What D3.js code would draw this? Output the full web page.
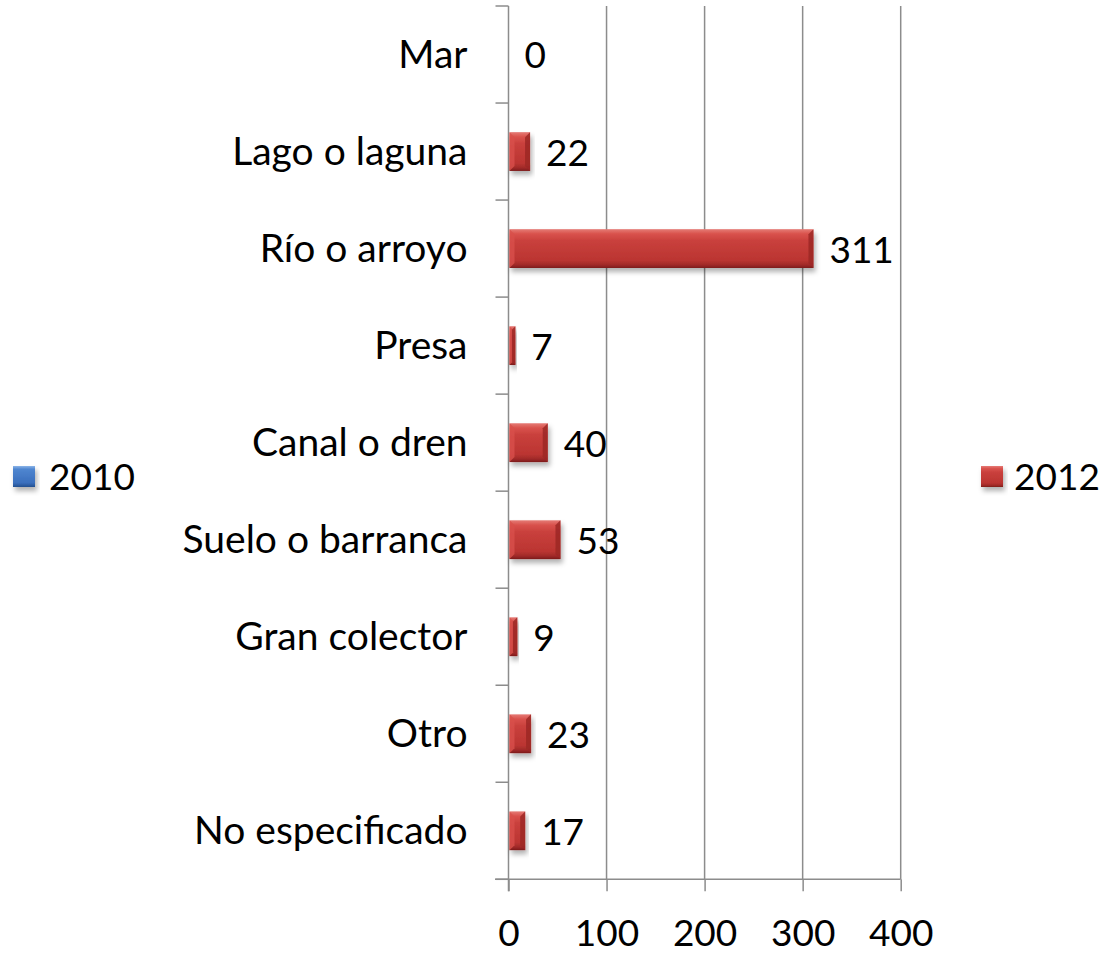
<!DOCTYPE html>
<html>
<head>
<meta charset="utf-8">
<script src="https://cdn.jsdelivr.net/npm/d3@7"></script>
<style>
  body { margin: 0; background: #fff; }
  svg { display: block; }
  text { font-family: Lato, "Noto Sans", sans-serif; fill: #000; }
</style>
</head>
<body>
<div id="chart"></div>
<script>
// categories top to bottom, as in the picture
const categories = ["Mar", "Lago o laguna", "Río o arroyo", "Presa", "Canal o dren",
                    "Suelo o barranca", "Gran colector", "Otro", "No especificado"];
// 2012 values
const values2012 = [0, 22, 311, 7, 40, 53, 9, 23, 17];
// 2010 is in the legend but draws no bars
const values2010 = [null, null, null, null, null, null, null, null, null];
const xTicks = [0, 100, 200, 300, 400];
const seriesNames = ["2010", "2012"];

const W = 1118, H = 954;
const plot = {left: 508.5, right: 900.7, top: 6, bottom: 879.3};

const svg = d3.select("#chart").append("svg")
    .attr("width", W)
    .attr("height", H);

const defs = svg.append("defs");

// gradients for the bevelled excel look
function barGradient(id, stops) {
    const g = defs.append("linearGradient").attr("id", id)
        .attr("x1", 0).attr("y1", 0).attr("x2", 0).attr("y2", 1);
    stops.forEach(s => g.append("stop").attr("offset", s[0]).attr("stop-color", s[1]));
}
barGradient("redBar", [[0, "#e57b76"], [0.12, "#d9524d"], [0.3, "#c9403c"], [0.8, "#bb3532"], [0.92, "#a02a28"], [1, "#7c1c1b"]]);
barGradient("blueBar", [[0, "#8bb4e8"], [0.15, "#4f86d0"], [0.8, "#3a6fbd"], [1, "#234f8f"]]);

const shadow = defs.append("filter").attr("id", "shadow")
    .attr("x", "-20%").attr("y", "-30%").attr("width", "140%").attr("height", "170%");
shadow.append("feDropShadow")
    .attr("dx", 2).attr("dy", 4).attr("stdDeviation", 2.5)
    .attr("flood-color", "#000").attr("flood-opacity", 0.3);

const x = d3.scaleLinear()
    .domain([0, 400])
    .range([plot.left, plot.right]);

const y = d3.scaleBand()
    .domain(categories)
    .range([plot.top, plot.bottom])
    .paddingInner(0.6)
    .paddingOuter(0.3);

// band scale without padding, for the category ticks
const yTick = d3.scaleBand().domain(categories).range([plot.top, plot.bottom]);

// vertical gridlines
svg.append("g")
    .selectAll("line")
    .data(xTicks.filter(t => t > 0))
    .enter().append("line")
    .attr("x1", d => x(d)).attr("x2", d => x(d))
    .attr("y1", plot.top).attr("y2", plot.bottom)
    .attr("stroke", "#8c8c8c").attr("stroke-width", 1.5);

// bottom axis
const xAxis = svg.append("g")
    .attr("transform", `translate(0,${plot.bottom})`)
    .call(d3.axisBottom(x).tickValues(xTicks).tickSize(12).tickSizeOuter(0).tickPadding(28));
xAxis.select(".domain").remove();
xAxis.append("line")
    .attr("x1", 495).attr("x2", plot.right)
    .attr("y1", 0).attr("y2", 0)
    .attr("stroke", "#8c8c8c").attr("stroke-width", 1.5);
xAxis.selectAll(".tick line").attr("stroke", "#8c8c8c").attr("stroke-width", 1.5);
xAxis.selectAll(".tick text")
    .style("font-family", "Lato, 'Noto Sans', sans-serif")
    .attr("font-size", 37).attr("fill", "#000");

// left axis with category labels
const yAxis = svg.append("g")
    .attr("transform", `translate(${plot.left},0)`);
yAxis.append("line")
    .attr("x1", 0).attr("x2", 0)
    .attr("y1", plot.top).attr("y2", plot.bottom + 12)
    .attr("stroke", "#8c8c8c").attr("stroke-width", 1.5);
yAxis.selectAll("line.tk")
    .data(categories.map(c => yTick(c)).concat([plot.bottom]))
    .enter().append("line")
    .attr("class", "tk")
    .attr("x1", -13).attr("x2", 0)
    .attr("y1", d => d).attr("y2", d => d)
    .attr("stroke", "#8c8c8c").attr("stroke-width", 1.5);
yAxis.selectAll("text.cat")
    .data(categories)
    .enter().append("text")
    .attr("class", "cat")
    .attr("x", -41)
    .attr("y", d => yTick(d) + yTick.bandwidth() / 2)
    .attr("dy", "0.35em")
    .attr("text-anchor", "end")
    .attr("font-size", 39)
    .text(d => d);

// bars for 2012
const rows = categories.map((c, i) => ({cat: c, v: values2012[i]}));
const bars = svg.append("g").selectAll("g.bar")
    .data(rows.filter(d => d.v > 0))
    .enter().append("g")
    .attr("class", "bar")
    .attr("filter", "url(#shadow)");

bars.append("rect")
    .attr("x", x(0) + 1)
    .attr("y", d => y(d.cat))
    .attr("width", d => x(d.v) - x(0) - 1)
    .attr("height", y.bandwidth())
    .attr("fill", "url(#redBar)");

// end bevels
const bev = 5;
bars.append("path")
    .attr("d", d => {
        const x0 = x(0) + 1, y0 = y(d.cat), h = y.bandwidth();
        const b = Math.min(bev, (x(d.v) - x0) / 2);
        return `M${x0},${y0} L${x0 + b},${y0 + b} L${x0 + b},${y0 + h - b} L${x0},${y0 + h} Z`;
    })
    .attr("fill", "#d8504b").attr("opacity", 0.8);
bars.append("path")
    .attr("d", d => {
        const x1 = x(d.v), y0 = y(d.cat), h = y.bandwidth();
        const b = Math.min(bev, (x1 - x(0)) / 2);
        return `M${x1},${y0} L${x1 - b},${y0 + b} L${x1 - b},${y0 + h - b} L${x1},${y0 + h} Z`;
    })
    .attr("fill", "#9c2826").attr("opacity", 0.85);

// value labels
svg.append("g").selectAll("text")
    .data(rows)
    .enter().append("text")
    .attr("x", d => x(d.v) + 16)
    .attr("y", d => yTick(d.cat) + yTick.bandwidth() / 2 + 1)
    .attr("dy", "0.35em")
    .attr("font-size", 37)
    .text(d => d.v);

// legend: 2010 on the left, 2012 on the right
const legend = [
    {name: seriesNames[0], fill: "url(#blueBar)", sx: 13, tx: 49},
    {name: seriesNames[1], fill: "url(#redBar)", sx: 981, tx: 1014}
];
const lg = svg.append("g").selectAll("g")
    .data(legend)
    .enter().append("g");
lg.append("rect")
    .attr("x", d => d.sx).attr("y", 466)
    .attr("width", 22).attr("height", 21)
    .attr("fill", d => d.fill)
    .attr("filter", "url(#shadow)");
lg.append("text")
    .attr("x", d => d.tx).attr("y", 477)
    .attr("dy", "0.35em")
    .attr("font-size", 37)
    .text(d => d.name);
</script>
</body>
</html>
